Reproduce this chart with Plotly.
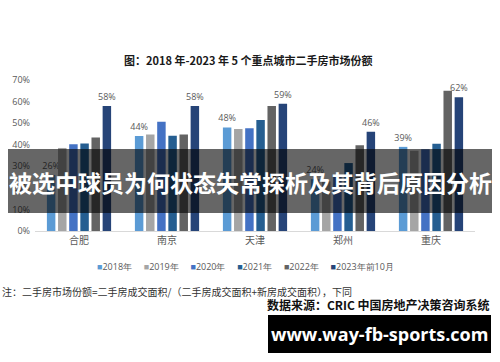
import plotly.graph_objects as go

cities = ["合肥", "南京", "天津", "郑州", "重庆"]
series_names = ["2018年", "2019年", "2020年", "2021年", "2022年", "2023年前10月"]
colors = ["#5B9BD5", "#A5A5A5", "#4472C4", "#255E91", "#636363", "#264478"]
v2018 = [26, 44, 48, 24, 39]
v2019 = [38.5, 44.7, 47.3, 23, 37.2]
v2020 = [40.2, 50.7, 47.6, 26, 37.9]
v2021 = [40.6, 44.2, 51.5, 31.5, 40.5]
v2022 = [43.3, 44.7, 57.9, 39.8, 65]
v2023 = [58, 58, 59, 46, 62]
values = [v2018, v2019, v2020, v2021, v2022, v2023]
labelled = [True, False, False, False, False, True]
y_ticks = [0, 10, 20, 30, 40, 50, 60, 70]

W, H = 500, 362
L, R, T, B = 35, 25, 80, 131
PW, PH = W - L - R, H - T - B

def px(x):
    return (x - L) / PW

def py(y):
    return (H - B - y) / PH

fig = go.Figure()
for name, col, vals, lab in zip(series_names, colors, values, labelled):
    fig.add_trace(go.Bar(
        x=cities, y=vals, name=name, marker_color=col,
        marker_line_width=0,
        text=[f"{round(v)}%" for v in vals] if lab else None,
        textposition="outside" if lab else "none",
        constraintext="none",
        textfont=dict(size=9, color="#595959", family="Open Sans"),
        cliponaxis=False, showlegend=False,
    ))

fig.update_layout(
    width=W, height=H,
    margin=dict(l=L, r=R, t=T, b=B),
    paper_bgcolor="white", plot_bgcolor="white",
    barmode="group", bargap=0.24, bargroupgap=0.24,
    font=dict(family="Noto Sans CJK SC", color="#595959"),
    xaxis=dict(showline=True, linecolor="#D9D9D9", linewidth=1, ticks="",
               tickfont=dict(size=10, color="#595959", family="Noto Sans CJK SC"),
               fixedrange=True),
    yaxis=dict(range=[0, 70], tickvals=y_ticks,
               ticktext=[f"{t}%" for t in y_ticks], showgrid=False,
               zeroline=False, showline=False, ticklabelstandoff=4,
               tickfont=dict(size=9, color="#595959", family="Open Sans"),
               fixedrange=True),
)

legend_text = "     ".join(
    f"<span style='color:{c}'>■</span>{n}" for n, c in zip(series_names, colors))

annotations = [
    dict(text="<b>图：2018 年-2023 年 5 个重点城市二手房市场份额</b>",
         x=px(248), y=py(60), font=dict(size=11, color="#1a1a1a", family="Noto Sans CJK SC")),
    dict(text=legend_text, x=px(245), y=py(266),
         font=dict(size=9, color="#595959", family="Open Sans")),
    dict(text="注：二手房市场份额=二手房成交面积/（二手房成交面积+新房成交面积），下同",
         x=px(0), y=py(291), xanchor="left",
         font=dict(size=10, color="#333333", family="Noto Sans CJK SC")),
    dict(text="<b>数据来源：CRIC 中国房地产决策咨询系统</b>",
         x=px(492), y=py(304), xanchor="right",
         font=dict(size=12, color="#111111", family="Noto Sans CJK SC")),
    dict(text="<b>被选中球员为何状态失常探析及其背后原因分析</b>",
         x=px(250), y=py(182), font=dict(size=23, color="white", family="Noto Sans CJK SC")),
    dict(text="<b>www.way-fb-sports.com</b>",
         x=px(379), y=py(334), font=dict(size=18, color="white", family="Open Sans")),
]
for a in annotations:
    a.update(xref="paper", yref="paper", showarrow=False)
    a.setdefault("xanchor", "center")
    a.setdefault("yanchor", "middle")
fig.update_layout(annotations=annotations)

fig.add_shape(type="rect", xref="paper", yref="paper",
              x0=px(8), x1=px(492), y0=py(213), y1=py(149),
              fillcolor="rgba(0,0,0,0.6)", line_width=0, layer="above")
fig.add_shape(type="rect", xref="paper", yref="paper",
              x0=px(268), x1=px(491), y0=py(353), y1=py(315),
              fillcolor="black", line_width=0, layer="above")

fig.write_html("out.html")
